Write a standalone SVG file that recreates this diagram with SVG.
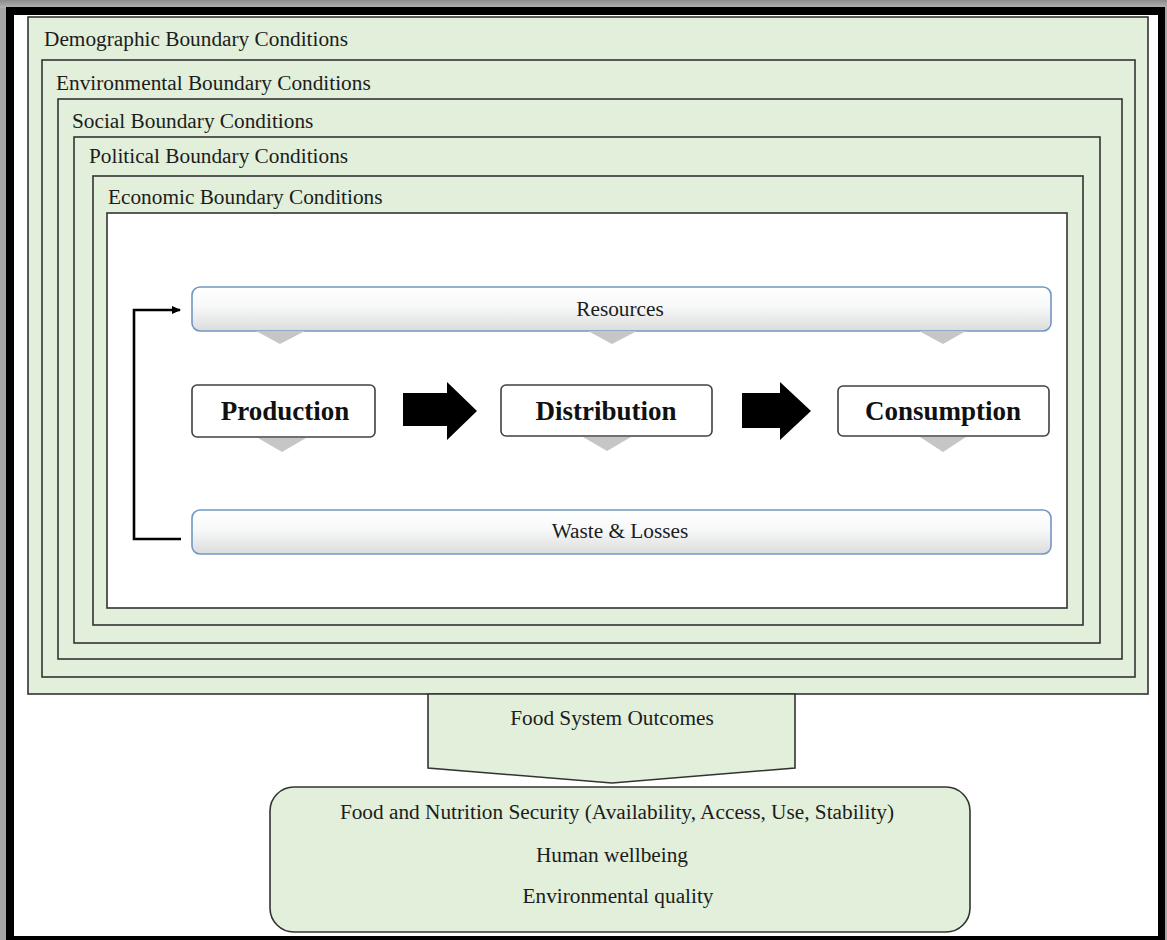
<svg xmlns="http://www.w3.org/2000/svg" width="1167" height="940" viewBox="0 0 1167 940">
  <style>
    .band { fill: #e2efda; stroke: #333333; stroke-width: 1.6; }
    .label { font-family: "Liberation Serif", "Times New Roman", serif; font-size: 21.3px; fill: #1c1c1c; }
    .mid { text-anchor: middle; }
    .stage { fill: #ffffff; stroke: #404040; stroke-width: 1.6; }
    .stage-text { font-family: "Liberation Serif", "Times New Roman", serif; font-size: 27px; font-weight: bold; fill: #111111; text-anchor: middle; }
    .flowbar { fill: url(#barFill); stroke: #7197c4; stroke-width: 1.6; }
    .chev { fill: #c6c6c6; }
    .outcome { fill: #e2efda; stroke: #333333; stroke-width: 1.6; }
  </style>
  <defs>
    <linearGradient id="barFill" x1="0" y1="0" x2="0" y2="1">
      <stop offset="0" stop-color="#ffffff"/>
      <stop offset="0.45" stop-color="#f7f8f9"/>
      <stop offset="1" stop-color="#dcdcdc"/>
    </linearGradient>
    <linearGradient id="edgeFill" x1="0" y1="0" x2="0" y2="1">
      <stop offset="0" stop-color="#8c8c8c"/>
      <stop offset="1" stop-color="#b4b4b4"/>
    </linearGradient>
    <marker id="tip" markerWidth="10" markerHeight="10" refX="8" refY="5" orient="auto" markerUnits="userSpaceOnUse">
      <path d="M0,1 L9,5 L0,9 Z" fill="#000000"/>
    </marker>
  </defs>

  <!-- page frame -->
  <rect x="0" y="0" width="1167" height="940" fill="#a6a6a6"/>
  <rect x="0" y="0" width="1167" height="8" fill="url(#edgeFill)"/>
  <rect x="6" y="7" width="1159" height="940" fill="#000000"/>
  <rect x="14" y="15" width="1144" height="921" fill="#ffffff"/>

  <!-- nested boundary conditions -->
  <g id="demographic">
    <rect class="band" x="28" y="17" width="1120" height="677"/>
    <text class="label" x="44" y="46">Demographic Boundary Conditions</text>
  </g>
  <g id="environmental">
    <rect class="band" x="42" y="60" width="1093" height="617"/>
    <text class="label" x="56" y="90">Environmental Boundary Conditions</text>
  </g>
  <g id="social">
    <rect class="band" x="58" y="99" width="1064" height="560"/>
    <text class="label" x="72" y="128">Social Boundary Conditions</text>
  </g>
  <g id="political">
    <rect class="band" x="74" y="137" width="1026" height="506"/>
    <text class="label" x="89" y="163">Political Boundary Conditions</text>
  </g>
  <g id="economic">
    <rect class="band" x="93" y="176" width="990" height="449"/>
    <text class="label" x="108" y="204">Economic Boundary Conditions</text>
  </g>
  <g id="food-system">
    <rect x="107" y="213" width="960" height="395" fill="#ffffff" stroke="#333333" stroke-width="1.6"/>
  </g>

  <!-- resource inputs and waste outputs -->
  <g id="resources">
    <rect class="flowbar" x="192" y="287" width="859" height="44" rx="8"/>
    <text class="label mid" x="620" y="316">Resources</text>
  </g>
  <g id="waste">
    <rect class="flowbar" x="192" y="510" width="859" height="44" rx="8"/>
    <text class="label mid" x="620" y="538">Waste &amp; Losses</text>
  </g>

  <!-- chain stages -->
  <g id="production">
    <rect class="stage" x="192" y="385" width="183" height="52" rx="5"/>
    <text class="stage-text" x="285" y="420">Production</text>
  </g>
  <g id="distribution">
    <rect class="stage" x="501" y="385" width="211" height="51" rx="5"/>
    <text class="stage-text" x="606" y="420">Distribution</text>
  </g>
  <g id="consumption">
    <rect class="stage" x="838" y="386" width="211" height="50" rx="5"/>
    <text class="stage-text" x="943" y="420">Consumption</text>
  </g>

  <!-- outcomes -->
  <g id="outcomes-head">
    <path class="outcome" d="M428,694 L795,694 L795,768 L612,783 L428,768 Z"/>
    <text class="label mid" x="612" y="725">Food System Outcomes</text>
  </g>
  <g id="outcomes">
    <rect class="outcome" x="270" y="787" width="700" height="145" rx="24"/>
    <text class="label mid" x="617" y="819">Food and Nutrition Security (Availability, Access, Use, Stability)</text>
    <text class="label mid" x="612" y="862">Human wellbeing</text>
    <text class="label mid" x="618" y="903">Environmental quality</text>
  </g>

  <!-- connectors -->
  <g id="connectors">
    <!-- grey chevrons from resources into the stages and from the stages into waste -->
    <polygon class="chev" points="256,331 305,331 280,344"/>
    <polygon class="chev" points="588,331 637,331 612,344"/>
    <polygon class="chev" points="919,331 966,331 943,344"/>
    <polygon class="chev" points="258,438 306,438 282,452"/>
    <polygon class="chev" points="583,437 631,437 607,451"/>
    <polygon class="chev" points="920,437 966,437 943,452"/>
    <!-- block arrows between stages -->
    <path d="M403,393 L447,393 L447,382 L477,411 L447,440 L447,426 L403,426 Z" fill="#000000"/>
    <path d="M742,393 L780,393 L780,382 L811,411 L780,440 L780,428 L742,428 Z" fill="#000000"/>
    <!-- feedback loop from waste back to resources -->
    <path d="M181,539 L134,539 L134,310 L180,310" fill="none" stroke="#000000" stroke-width="2.6" marker-end="url(#tip)"/>
  </g>
</svg>
